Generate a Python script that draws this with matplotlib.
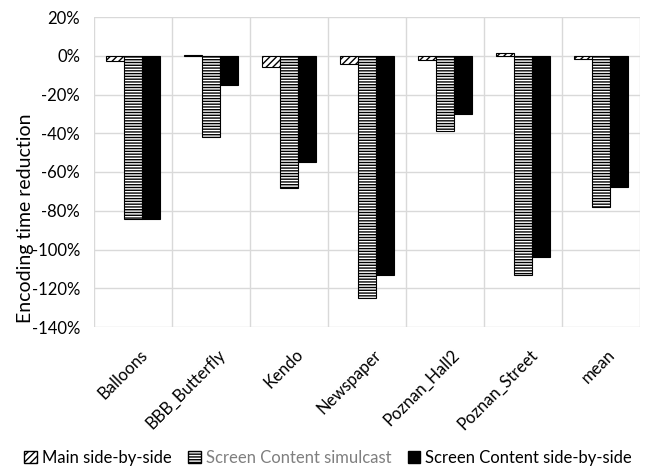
import matplotlib.pyplot as plt
import numpy as np
from matplotlib.ticker import FuncFormatter
from matplotlib.patches import Patch

plt.rcParams['font.family'] = ['Lato', 'DejaVu Sans']
plt.rcParams['hatch.linewidth'] = 1.0

categories = ['Balloons', 'BBB_Butterfly', 'Kendo', 'Newspaper', 'Poznan_Hall2', 'Poznan_Street', 'mean']
main_sbs = [-2.5, 0.3, -6, -4, -2, 1.5, -1.5]
sc_simulcast = [-84, -42, -68, -125, -39, -113, -78]
sc_sbs = [-84, -15, -55, -113, -30, -104, -67.5]
yticks = [20, 0, -20, -40, -60, -80, -100, -120, -140]

fig = plt.figure(figsize=(6.45, 4.7), dpi=100)
ax = fig.add_axes([94/645, 1 - 327/470, 546/645, 310/470])

x = np.arange(len(categories))
w = 0.23
ax.bar(x - w, main_sbs, w, color='white', edgecolor='black', hatch='/////', linewidth=0.8, zorder=3)
ax.bar(x, sc_simulcast, w, color='white', edgecolor='black', hatch='------', linewidth=0.8, zorder=3)
ax.bar(x + w, sc_sbs, w, color='black', edgecolor='black', linewidth=0.8, zorder=3)

ax.set_xlim(-0.5, len(categories) - 0.5)
ax.set_ylim(-140, 20)
ax.set_yticks(yticks)
ax.yaxis.set_major_formatter(FuncFormatter(lambda v, p: '%d%%' % v))
ax.set_xticks(x + 0.08)
ax.set_xticklabels(categories, rotation=45, ha='right', rotation_mode='anchor')
ax.set_xticks(np.arange(-0.5, len(categories)), minor=True)
ax.grid(axis='y', color='#d9d9d9', linewidth=1, zorder=0)
ax.grid(axis='x', which='minor', color='#d9d9d9', linewidth=1, zorder=0)
ax.tick_params(axis='both', which='both', length=0, labelsize=12)
ax.tick_params(axis='y', pad=10)
ax.tick_params(axis='x', pad=14)
for s in ax.spines.values():
    s.set_visible(False)
ax.set_ylabel('Encoding time reduction', fontsize=14)
ax.yaxis.set_label_coords(-0.11, 0.35)

handles = [Patch(facecolor='white', edgecolor='black', hatch='/////'),
           Patch(facecolor='white', edgecolor='black', hatch='------'),
           Patch(facecolor='black', edgecolor='black')]
leg = fig.legend(handles, ['Main side-by-side', 'Screen Content simulcast', 'Screen Content side-by-side'],
                 loc='center', bbox_to_anchor=(328/645, 1 - 458/470), ncol=3, frameon=False,
                 fontsize=12, handlelength=0.75, handleheight=0.75, handletextpad=0.3, columnspacing=1.0)
leg.get_texts()[1].set_color('#7f7f7f')

fig.savefig('out.png', dpi=100)
